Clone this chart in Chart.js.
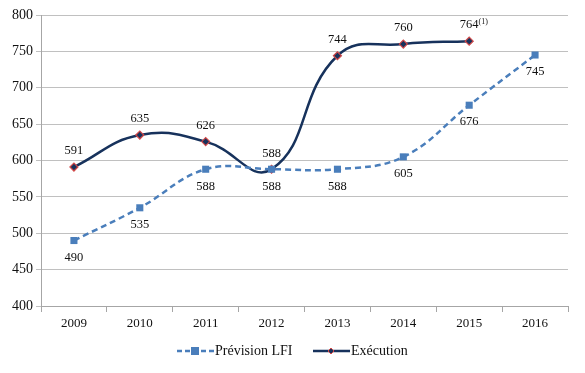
<!DOCTYPE html>
<html>
<head>
<meta charset="utf-8">
<script src="https://cdn.jsdelivr.net/npm/chart.js@4"></script>
<style>
  html, body { margin: 0; padding: 0; background: #fff; }
  #wrap { width: 585px; height: 373px; }
</style>
</head>
<body>
<div id="wrap"><canvas id="chart"></canvas></div>
<script>
const annees = ['2009', '2010', '2011', '2012', '2013', '2014', '2015', '2016']
const prevision = [490, 535, 588, 588, 588, 605, 676, 745]
const execution = [591, 635, 626, 588, 744, 760, 764, null]
const yTicks = [400, 450, 500, 550, 600, 650, 700, 750, 800]

const police = '"Liberation Serif", "DejaVu Serif", serif'
const bleu = '#4a7ebb'
const marine = '#17325c'
const rouge = '#d04848'

// etiquettes de valeurs + legende dessinees a la main
const etiquettes = {
  id: 'etiquettes',
  afterDatasetsDraw(chart) {
    const ctx = chart.ctx
    ctx.save()
    ctx.font = '12.5px ' + police
    ctx.fillStyle = '#111'
    ctx.textAlign = 'center'
    ctx.textBaseline = 'middle'
    chart.getDatasetMeta(0).data.forEach((pt, i) => {
      ctx.fillText(String(prevision[i]), pt.x, pt.y + 17)
    })
    chart.getDatasetMeta(1).data.forEach((pt, i) => {
      if (execution[i] == null) return
      const txt = String(execution[i])
      if (i === 6) {
        const w = ctx.measureText(txt).width
        ctx.fillText(txt, pt.x, pt.y - 16)
        ctx.font = '8px ' + police
        ctx.textAlign = 'left'
        ctx.fillText('(1)', pt.x + w / 2, pt.y - 19)
        ctx.font = '12.5px ' + police
        ctx.textAlign = 'center'
      } else {
        ctx.fillText(txt, pt.x, pt.y - 16)
      }
    })

    // legende
    const y = 351
    ctx.lineWidth = 2.5
    ctx.strokeStyle = bleu
    ctx.setLineDash([5, 3])
    ctx.beginPath(); ctx.moveTo(177, y); ctx.lineTo(214, y); ctx.stroke()
    ctx.setLineDash([])
    ctx.fillStyle = bleu
    ctx.fillRect(191, y - 4, 8, 8)
    ctx.fillStyle = '#111'
    ctx.textAlign = 'left'
    ctx.font = '14px ' + police
    ctx.fillText('Prévision LFI', 215, y)

    ctx.strokeStyle = marine
    ctx.lineWidth = 2.5
    ctx.beginPath(); ctx.moveTo(313, y); ctx.lineTo(350, y); ctx.stroke()
    ctx.fillStyle = marine
    ctx.strokeStyle = rouge
    ctx.lineWidth = 1
    ctx.beginPath()
    ctx.moveTo(331, y - 3); ctx.lineTo(334, y); ctx.lineTo(331, y + 3); ctx.lineTo(328, y)
    ctx.closePath(); ctx.fill(); ctx.stroke()
    ctx.fillStyle = '#111'
    ctx.fillText('Exécution', 351, y)
    ctx.restore()
  }
}

document.addEventListener('DOMContentLoaded', () => {
  const data = {
    labels: annees,
    datasets: [{
      label: 'Prévision LFI',
      data: prevision,
      borderColor: bleu,
      backgroundColor: bleu,
      borderWidth: 2.5,
      borderDash: [6, 4],
      tension: 0.4,
      pointStyle: 'rect',
      pointRadius: 5,
      pointBorderWidth: 0,
      pointBackgroundColor: bleu
    }, {
      label: 'Exécution',
      data: execution,
      borderColor: marine,
      backgroundColor: marine,
      borderWidth: 2.5,
      tension: 0.45,
      pointStyle: 'rectRot',
      pointRadius: 4,
      pointBorderWidth: 1.2,
      pointBorderColor: rouge,
      pointBackgroundColor: marine
    }]
  }

  const config = {
    type: 'line',
    data,
    plugins: [etiquettes],
    options: {
      responsive: false,
      animation: false,
      devicePixelRatio: 1,
      layout: { padding: { top: 15, right: 17, bottom: 37, left: 0 } },
      plugins: { legend: { display: false }, tooltip: { enabled: false } },
      scales: {
        x: {
          offset: true,
          grid: { offset: true, drawOnChartArea: false, color: '#a6a6a6', tickLength: 6 },
          border: { color: '#a6a6a6' },
          ticks: { color: '#111', font: { family: police, size: 13 }, padding: 4 },
          afterFit: s => { s.height = 30 }
        },
        y: {
          min: 400,
          max: 800,
          afterBuildTicks: s => { s.ticks = yTicks.map(v => ({ value: v })) },
          grid: { color: '#c0c0c0', tickLength: 5 },
          border: { color: '#a6a6a6' },
          ticks: { color: '#111', font: { family: police, size: 14 }, padding: 3 },
          afterFit: s => { s.width = 41 }
        }
      }
    }
  }

  const cv = document.getElementById('chart')
  cv.width = 585
  cv.height = 373
  new Chart(cv, config)
})
</script>
</body>
</html>
